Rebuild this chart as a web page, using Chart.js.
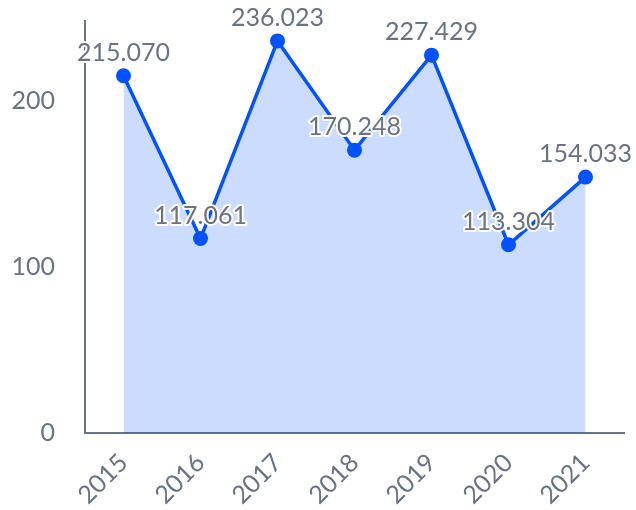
<!DOCTYPE html>
<html>
<head>
<meta charset="utf-8">
<script src="https://cdn.jsdelivr.net/npm/chart.js@4"></script>
<style>
  body { margin: 0; background: #fff; }
  #wrap { width: 636px; height: 510px; }
</style>
</head>
<body>
<div id="wrap"><canvas id="myChart" width="636" height="510"></canvas></div>
<script>
var years = ['2015', '2016', '2017', '2018', '2019', '2020', '2021'];
var values = [215.070, 117.061, 236.023, 170.248, 227.429, 113.304, 154.033];
var yTicks = [0, 100, 200];

var grey = '#6b7280';
var blue = '#0052ff';

// value labels above each point, white outline like the original
var valueLabels = {
    id: 'valueLabels',
    afterDatasetsDraw: function (chart) {
        var ctx = chart.ctx;
        var meta = chart.getDatasetMeta(0);
        ctx.save();
        ctx.font = '25px Lato';
        ctx.textAlign = 'center';
        ctx.textBaseline = 'middle';
        ctx.lineJoin = 'round';
        meta.data.forEach(function (pt, i) {
            var txt = values[i].toFixed(3);
            ctx.strokeStyle = '#fff';
            ctx.lineWidth = 4;
            ctx.strokeText(txt, pt.x, pt.y - 23);
            ctx.fillStyle = grey;
            ctx.fillText(txt, pt.x, pt.y - 23);
        });
        ctx.restore();
    }
};

var ctx = document.getElementById('myChart').getContext('2d');
var myChart = new Chart(ctx, {
    type: 'line',
    data: {
        labels: years,
        datasets: [{
            data: values,
            borderColor: blue,
            backgroundColor: 'rgba(0, 82, 255, 0.2)',
            borderWidth: 3.5,
            fill: 'origin',
            tension: 0,
            pointRadius: 7.5,
            pointBackgroundColor: blue,
            pointBorderWidth: 0
        }]
    },
    options: {
        responsive: false,
        animation: false,
        layout: { padding: { top: 21, right: 12 } },
        plugins: {
            legend: { display: false },
            tooltip: { enabled: false }
        },
        scales: {
            x: {
                offset: true,
                grid: { display: false, drawTicks: false },
                border: { color: grey, width: 2 },
                ticks: {
                    color: grey,
                    font: { family: 'Lato', size: 25 },
                    minRotation: 45,
                    maxRotation: 45,
                    padding: 15
                },
                afterFit: function (s) {
                    s.height = 77;
                    s.paddingLeft = 0;
                    s.paddingRight = 0;
                }
            },
            y: {
                min: 0,
                max: 248,
                grid: { display: false, drawTicks: false },
                border: { color: grey, width: 2 },
                afterBuildTicks: function (scale) {
                    scale.ticks = yTicks.map(function (v) { return { value: v }; });
                },
                ticks: {
                    color: grey,
                    font: { family: 'Lato', size: 25 },
                    padding: 30
                },
                afterFit: function (s) {
                    s.width = 85;
                    s.paddingTop = 0;
                    s.paddingBottom = 0;
                }
            }
        }
    },
    plugins: [valueLabels]
});
</script>
</body>
</html>
